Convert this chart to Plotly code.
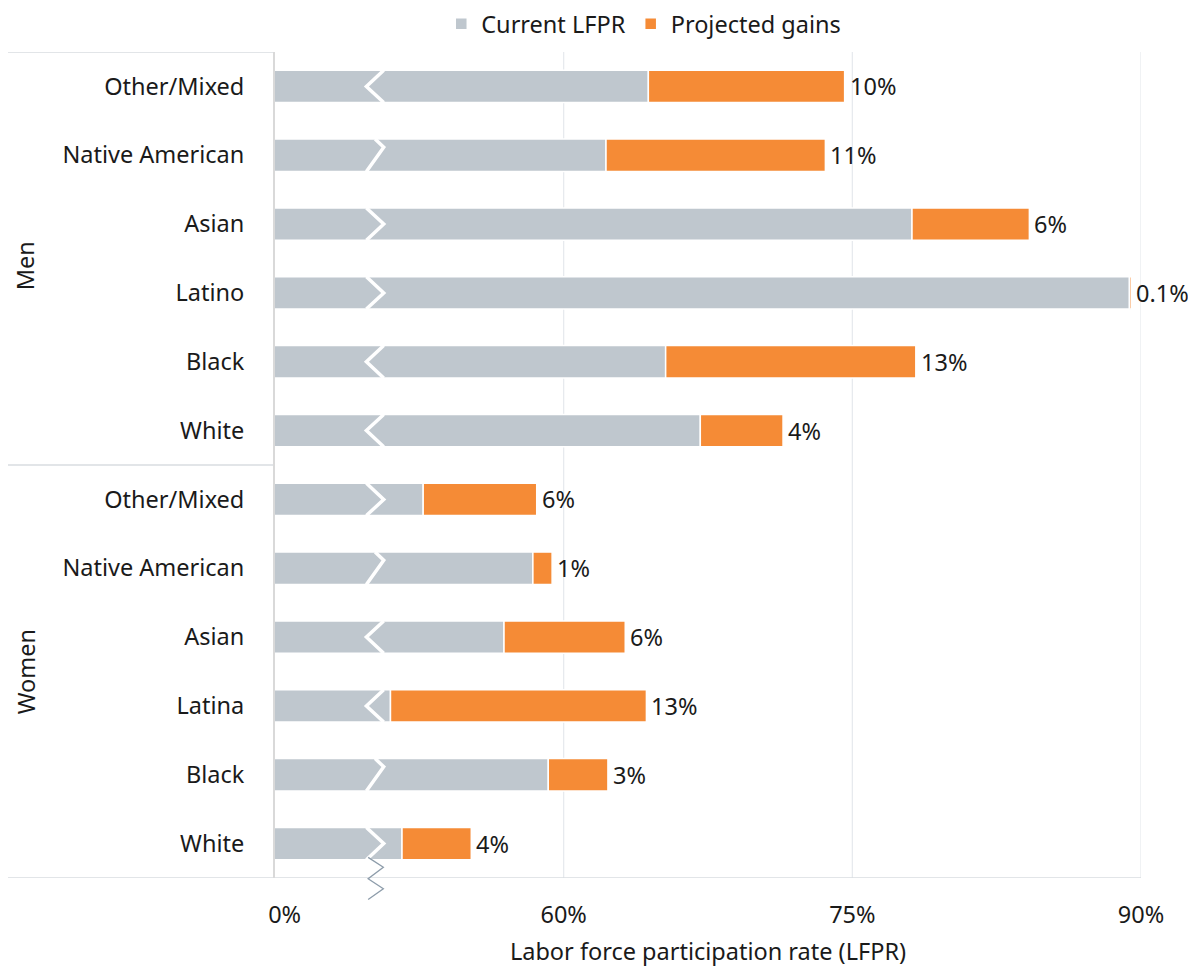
import plotly.graph_objects as go

# categories, top to bottom
groups = ["Men"] * 6 + ["Women"] * 6
categories = [
    "Other/Mixed", "Native American", "Asian", "Latino", "Black", "White",
    "Other/Mixed", "Native American", "Asian", "Latina", "Black", "White",
]
current_lfpr = [64.4, 62.2, 78.1, 89.4, 65.3, 67.1, 52.7, 58.4, 56.9, 51.0, 59.2, 51.6]
projected_gain = [10.2, 11.4, 6.1, 0.1, 13.0, 4.3, 5.9, 1.0, 6.3, 13.3, 3.1, 3.6]
gain_labels = ["10%", "11%", "6%", "0.1%", "13%", "4%", "6%", "1%", "6%", "13%", "3%", "4%"]

x_tickvals = [45.5, 60, 75, 90]
x_ticktext = ["0%", "60%", "75%", "90%"]

# look of the axis-break mark drawn on each bar
break_style = ["<", "z", ">", ">", "<", "<", ">", "z", "<", "<", "z", ">"]

GRAY = "#bfc7ce"
ORANGE = "#f58b36"
FONT = "Noto Sans"
FS = 23.5

ypos = list(range(len(categories) - 1, -1, -1))
totals = [c + g for c, g in zip(current_lfpr, projected_gain)]

fig = go.Figure()
fig.add_trace(go.Bar(
    y=ypos, x=current_lfpr, orientation="h", name="Current LFPR",
    marker=dict(color=GRAY, line=dict(color="white", width=1.5)), width=0.47,
))
fig.add_trace(go.Bar(
    y=ypos, x=projected_gain, base=current_lfpr, orientation="h", name="Projected gains",
    marker=dict(color=ORANGE, line=dict(color="white", width=1.5)), width=0.47,
))

for y, x, t in zip(ypos, totals, gain_labels):
    fig.add_annotation(x=x, y=y, text=t, showarrow=False, xanchor="left", yanchor="middle",
                       xshift=3, font=dict(size=FS, color="#1a1a1a", family=FONT))

# white zigzag breaks across the bars
c, a, h = 50.2, 0.45, 0.235
for y, style in zip(ypos, break_style):
    top, bot = y + h, y - h
    if style == "<":
        path = f"M {c + a} {top} L {c - a} {y} L {c + a} {bot}"
    elif style == ">":
        path = f"M {c - a} {top} L {c + a} {y} L {c - a} {bot}"
    else:
        path = f"M {c} {top} L {c + a} {top - 0.12} L {c - a} {bot}"
    fig.add_shape(type="path", path=path, line=dict(color="white", width=3.5), layer="above")

# zigzag below the x axis
zx = [49.84, 50.63, 49.84, 50.63, 49.84]
zy = [0.025, 0.013, -0.001, -0.013, -0.026]
zpath = "M " + " L ".join(f"{x} {y}" for x, y in zip(zx, zy))
fig.add_shape(type="path", path=zpath, xref="x", yref="paper",
              line=dict(color="#8d9caa", width=1.3), layer="above")

for v in [60, 75, 90]:
    fig.add_vline(x=v, line=dict(color="#e6e9ed", width=1.2), layer="below")

# group separators on the left
left = -0.3085
for yv, xr in [(11.5, 0), (5.5, 0), (-0.5, 1)]:
    fig.add_shape(type="line", xref="paper", yref="y", x0=left, x1=xr, y0=yv, y1=yv,
                  line=dict(color="#d9dde1", width=1.5), layer="below")

fig.add_annotation(x=left, xref="paper", y=8.4, yref="y", text="Men", textangle=-90,
                   showarrow=False, xanchor="left", font=dict(size=FS, family=FONT, color="#1a1a1a"))
fig.add_annotation(x=left, xref="paper", y=2.5, yref="y", text="Women", textangle=-90,
                   showarrow=False, xanchor="left", font=dict(size=FS, family=FONT, color="#1a1a1a"))

fig.update_layout(
    width=1188, height=959,
    barmode="overlay",
    plot_bgcolor="white", paper_bgcolor="white",
    margin=dict(l=267, r=55, t=44, b=89, autoexpand=False),
    font=dict(family=FONT, size=FS, color="#1a1a1a"),
    legend=dict(orientation="h", x=0.192, xanchor="left", y=1.034, yanchor="middle",
                font=dict(size=FS), traceorder="normal", itemwidth=30),
    xaxis=dict(
        range=[45, 90], tickvals=x_tickvals, ticktext=x_ticktext, showgrid=False,
        zeroline=False, showline=False, ticks="", ticklabelstandoff=20, automargin=False,
        title=dict(text="Labor force participation rate (LFPR)", standoff=15, font=dict(size=FS)),
    ),
    yaxis=dict(
        range=[-0.5, 11.5], tickvals=ypos, ticktext=categories, showgrid=False,
        zeroline=False, showline=True, linecolor="#d9d9d9", linewidth=2,
        ticks="", ticklabelstandoff=24, automargin=False,
    ),
)

fig.write_html("out.html")
